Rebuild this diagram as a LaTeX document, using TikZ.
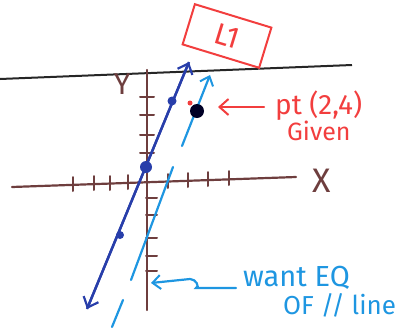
\documentclass[tikz,border=0pt]{standalone}
\usepackage{fontspec}
\setmainfont{Fira Sans}
\usetikzlibrary{arrows.meta}
\definecolor{pred}{RGB}{242,62,62}
\definecolor{dblue}{RGB}{40,62,170}
\definecolor{lblue}{RGB}{30,150,225}
\definecolor{brownax}{RGB}{110,62,62}
\tikzset{
  axis/.style={draw=brownax, line width=2.2pt, line cap=round},
  tick/.style={draw=brownax, line width=2pt, line cap=round},
  barb/.style={-{Straight Barb[length=9pt,width=16pt,line width=2.2pt]}},
  hand/.style={font=\fontsize{25}{26}\selectfont},
}
\begin{document}
\begin{tikzpicture}[x=1pt,y=-1pt]
\useasboundingbox (0,0) rectangle (399,327);
% black horizontal line
\coordinate (hl) at (0,79);
\coordinate (hr) at (352,65);
\draw[black!85, line width=2pt] (hl) -- (hr);
% axes
\coordinate (yt) at (147,70);
\coordinate (yb) at (147,310);
\coordinate (xl) at (12,187);
\coordinate (xr) at (296,177);
\draw[axis] (yt) -- (yb);
\draw[axis] (xl) -- (xr);
\node[text=brownax, font=\fontsize{30}{30}\selectfont] (ylab) at (122,84) {Y};
\node[text=brownax, font=\fontsize{34}{34}\selectfont] (xlab) at (322,181) {X};
% x ticks
\foreach \x/\y in {73/184,94/183,110/183,128/182,168/181,188/180,208/179,229/178}
  \draw[tick] (\x,\y-7) -- (\x,\y+7);
% y ticks
\foreach \y in {97,115,135,153}
  \draw[tick] (140,\y) -- (154,\y);
\foreach \y in {198,215,238,256,271}
  \draw[tick] (146,\y) -- (157,\y);
% dark blue line L1
\coordinate (dt) at (189,62);
\coordinate (db) at (87,309);
\draw[dblue, line width=2.4pt, barb] (db) -- (dt);
\draw[dblue, line width=2.4pt, barb] (dt) -- (db);
\fill[dblue] (172,101) circle (4.5);
\fill[dblue] (146,167) circle (6);
\fill[dblue] (120,235) circle (4);
% light blue parallel line
\coordinate (la) at (210,75);
\coordinate (lb) at (182,146);
\coordinate (lc) at (173,167);
\coordinate (ld) at (131,280);
\coordinate (le) at (123,300);
\coordinate (lf) at (112,327);
\draw[lblue, line width=2.2pt, line cap=round, {Straight Barb[length=8pt,width=14pt,line width=2pt]}-] (la) -- (lb);
\draw[lblue, line width=2.2pt, line cap=round] (lc) -- (ld);
\draw[lblue, line width=2.2pt, line cap=round] (le) -- (lf);
% given point
\fill[pred] (190,103) circle (2.5);
\fill[black!85!blue] (197,111) circle (7);
% red arrow and label
\node[text=pred, anchor=west, inner sep=0, font=\fontsize{28}{28}\selectfont] (pt) at (275,106) {pt (2,4)};
\node[text=pred, hand, anchor=west, inner sep=0] (given) at (287,131) {Given};
\draw[pred, line width=2.2pt, line cap=round, -{Straight Barb[length=9pt,width=16pt,line width=2pt]}] (pt.west) ++(-11,1) coordinate (pa) -- (218,107);
% L1 box
\node[draw=pred, line width=2pt, rotate=-17, minimum width=80, minimum height=42, text=pred, font=\fontsize{30}{30}\selectfont, inner sep=2pt] (L1) at (227,36) {L1};
% blue note
\node[text=lblue, anchor=west, inner sep=0, font=\fontsize{29}{30}\selectfont] (want) at (243,278) {want EQ};
\node[text=lblue, anchor=west, inner sep=0, font=\fontsize{26}{26}\selectfont] (ofl) at (283,305) {OF // line};
\coordinate (wa) at (236,288);
\coordinate (wt) at (151,283);
\draw[lblue, line width=2.2pt, line cap=round, -{Straight Barb[length=8pt,width=14pt,line width=2pt]}] (wa) -- (196,288) .. controls (200,287) and (196,279) .. (190,279) -- (wt);
\end{tikzpicture}
\end{document}
